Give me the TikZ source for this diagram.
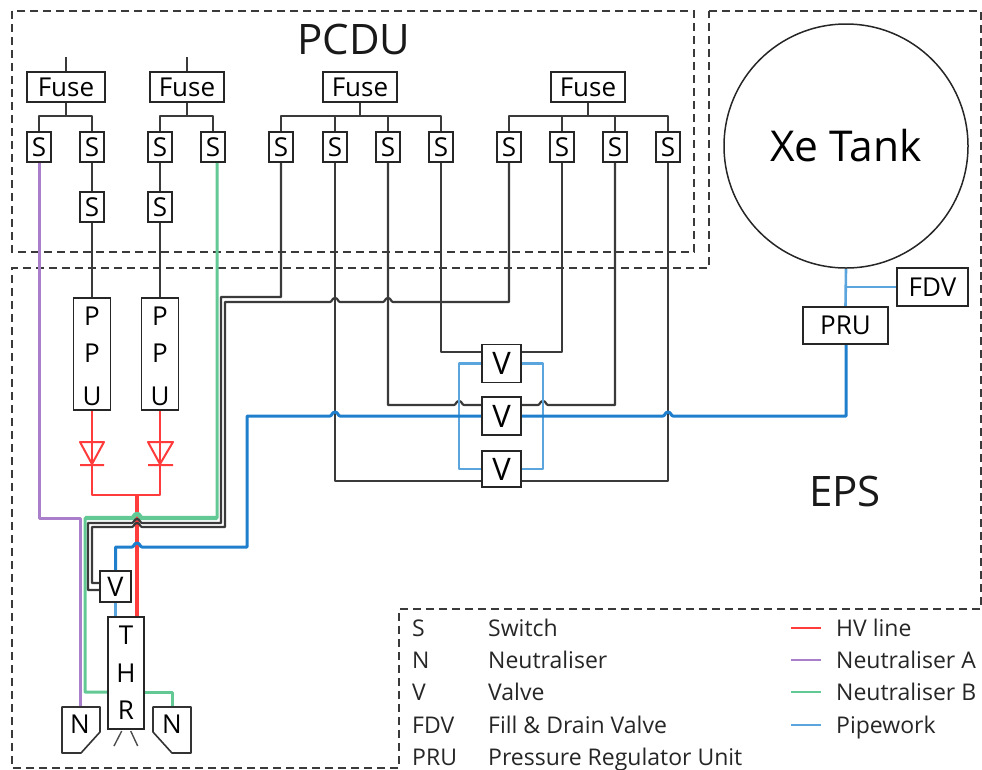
\documentclass[tikz,border=0pt]{standalone}
\usepackage{fontspec}
\usetikzlibrary{backgrounds}
\setmainfont{Open Sans}
\definecolor{hvred}{HTML}{FF3B3B}
\definecolor{npurple}{HTML}{A97FCB}
\definecolor{ngreen}{HTML}{62C994}
\definecolor{pblue}{HTML}{1F7FCC}
\definecolor{lblue}{HTML}{5AA5DE}
\definecolor{dgrey}{HTML}{3A3A3A}
\newcommand{\hopR}[2]{-- ({#1-5},#2) .. controls ({#1-3},#2) and ({#1-3},{#2-4}) .. (#1,{#2-4}) .. controls ({#1+3},{#2-4}) and ({#1+3},#2) .. ({#1+5},#2)}
\newcommand{\hopL}[2]{-- ({#1+5},#2) .. controls ({#1+3},#2) and ({#1+3},{#2-4}) .. (#1,{#2-4}) .. controls ({#1-3},{#2-4}) and ({#1-3},#2) .. ({#1-5},#2)}
\tikzset{
  boxn/.style={draw=black!85,line width=1.5pt,fill=white,inner sep=0pt,font=\fontsize{26}{26}\selectfont},
  fusebox/.style={boxn,minimum width=76pt,minimum height=30pt},
  swbox/.style={boxn,minimum width=24pt,minimum height=30pt},
  ppubox/.style={boxn,minimum width=37pt,minimum height=112pt},
  valvebox/.style={boxn,minimum width=39pt,minimum height=38pt,font=\fontsize{31}{31}\selectfont},
  wire/.style={draw=dgrey,line width=2.2pt,line join=round},
  pipe/.style={draw=pblue,line width=3pt,line join=round},
  lpipe/.style={draw=lblue,line width=2.6pt,line join=round},
  hv/.style={draw=hvred,line width=2.4pt,line join=round},
  neua/.style={draw=npurple,line width=3pt,line join=round},
  neub/.style={draw=ngreen,line width=3pt,line join=round},
  zone/.style={draw=dgrey,line width=1.6pt,dash pattern=on 8pt off 5pt},
  legtext/.style={anchor=west,inner sep=0pt,text height=17pt,text depth=1pt,font=\fontsize{23}{23}\selectfont,text=black!85},
  title/.style={inner sep=0pt,font=\fontsize{42}{42}\selectfont,text=black!90},
  letter/.style={inner sep=0pt,font=\fontsize{26}{26}\selectfont},
  nozzle/.style={draw=black!80,line width=1.6pt,line join=round,fill=white},
}
\begin{document}
\begin{tikzpicture}[x=1pt,y=-1pt]
\useasboundingbox (0,0) rectangle (982,769);
% boxes
\node[fusebox,minimum width=78pt] (F1) at (66,87) {Fuse};
\node[fusebox,minimum width=74pt] (F2) at (187,87) {Fuse};
\node[fusebox,minimum width=74pt] (F3) at (360,87) {Fuse};
\node[fusebox,minimum width=74pt] (F4) at (588,87) {Fuse};
\foreach \n/\x in {1/39,2/92,3/160,4/213,5/281,6/335,7/388,8/441,9/509,10/562,11/615,12/668}
  \node[swbox] (S\n) at (\x,147) {S};
\node[swbox] (S2b) at (92,207) {S};
\node[swbox] (S3b) at (160,207) {S};
\node[ppubox] (P1) at (92,354) {};
\node[ppubox] (P2) at (160,354) {};
\node[valvebox] (V1) at (501.5,363.5) {V};
\node[valvebox] (V2) at (501.5,416) {V};
\node[valvebox,minimum height=36pt] (V3) at (501.5,469) {V};
\node[boxn,minimum width=31pt,minimum height=31pt,font=\fontsize{27}{27}\selectfont] (Vt) at (115.5,586.5) {V};
\node[boxn,minimum width=36pt,minimum height=112pt] (THR) at (126,673) {};
\node[boxn,minimum width=85pt,minimum height=37pt] (PRU) at (845.5,325.5) {PRU};
\node[boxn,minimum width=71pt,minimum height=38pt] (FDV) at (932.5,287) {FDV};
\node[draw=black!85,line width=1.5pt,circle,minimum size=244pt,inner sep=0pt,font=\fontsize{42.5}{42.5}\selectfont] (Tank) at (846,146) {Xe Tank};
% free ends and junctions
\coordinate (t1) at (66,57); \coordinate (t2) at (187,57);
\coordinate (b1) at (66,116); \coordinate (b2) at (187,116); \coordinate (b3) at (360,116); \coordinate (b4) at (588,116);
\coordinate (j) at (137,495);
\coordinate (NLc) at (80,707);
\coordinate (NRc) at (172,707);
\coordinate (tee) at (846,287);
\begin{scope}[on background layer]
\draw[zone] (12,11) rectangle (694,252);
\draw[zone] (709,11) -- (981,11) -- (981,609) -- (399,609) -- (399,768) -- (12,768) -- (12,268) -- (709,268) -- cycle;
\draw[wire] (t1) -- (F1.north);
\draw[wire] (t2) -- (F2.north);
\draw[wire] (F1.south) -- (b1);
\draw[wire] (F2.south) -- (b2);
\draw[wire] (F3.south) -- (b3);
\draw[wire] (F4.south) -- (b4);
\draw[wire] (S1.north) |- (b1) -| (S2.north);
\draw[wire] (S3.north) |- (b2) -| (S4.north);
\draw[wire] (S5.north) |- (b3) -| (S8.north);
\draw[wire] (S6.north) |- (b3);
\draw[wire] (S7.north) |- (b3);
\draw[wire] (S9.north) |- (b4) -| (S12.north);
\draw[wire] (S10.north) |- (b4);
\draw[wire] (S11.north) |- (b4);
\draw[wire] (S2.south) -- (S2b.north);
\draw[wire] (S3.south) -- (S3b.north);
\draw[wire] (S2b.south) -- (P1.north);
\draw[wire] (S3b.south) -- (P2.north);
% HV line
\draw[hv] (P1.south) -- (92,495) -- (160,495) -- (P2.south);
\draw[hvred,line width=2pt,line join=round] (80,442) -- (104,442) -- (92,464) -- cycle (80,465) -- (104,465);
\draw[hvred,line width=2pt,line join=round] (148,442) -- (173,442) -- (160,464) -- cycle (148,465) -- (173,465);
\draw[hv,line width=3.6pt] (j) -- (137,617);
% Neutraliser A
\draw[neua] (S1.south) -- (39,518) -- (80,518) -- (NLc);
% Neutraliser B
\draw[neub] (217,147) -- (217,518) \hopL{137}{518} -- (85,518) -- (85,692) -- (108,692);
\draw[neub,line width=4.4pt] (217,518) \hopL{137}{518} -- (85,518);
\draw[neub] (144,692) -- (172,692) -- (NRc);
% valve wires
\draw[wire] (S5.south) -- (281,297) -- (221,297) -- (221,523) \hopL{137}{523} -- (88,523) -- (88,590) -- (100,590);
\draw[wire] (S9.south) -- (509,302) \hopL{388}{302} \hopL{335}{302} -- (225,302) -- (225,527) \hopL{137}{527} -- (92,527) -- (92,583) -- (100,583);
\draw[wire] (S8.south) -- (441,352) -- (482,352);
\draw[wire] (S10.south) -- (562,352) -- (521,352);
\draw[wire] (S7.south) -- (388,405) \hopR{459}{405} -- (482,405);
\draw[wire] (S11.south) -- (615,405) \hopL{543}{405} -- (521,405);
\draw[wire] (S6.south) -- (335,481) -- (482,481);
\draw[wire] (S12.south) -- (668,481) -- (521,481);
% pipework
\draw[lpipe] (Tank.south) -- (PRU.north);
\draw[lpipe] (tee) -- (FDV.west);
\draw[lpipe] (V1.west) -- (459,363.5) -- (459,469) -- (V3.west);
\draw[lpipe] (V1.east) -- (543,363.5) -- (543,469) -- (V3.east);
\draw[lpipe] (Vt.south) -- (Vt.south |- THR.north);
\draw[pipe] (846,345) -- (846,416) \hopL{668}{416} -- (V2.east);
\draw[pipe] (V2.west) \hopL{335}{416} -- (247,416) -- (247,547) \hopL{137}{547} -- (115.5,547) -- (Vt.north);
\end{scope}
% letters in tall boxes
\foreach \nm/\x/\y/\t in {pa/92/316/P,pb/92/353/P,pc/92/396/U,pd/160/316/P,pe/160/353/P,pf/160/396/U,ta/126/635/T,tb/126/673/H,tc/126/710/R}
  \node[letter] (\nm) at (\x,\y) {\t};
% neutralisers
\draw[nozzle] (62,707) -- (100,707) -- (100,732) -- (81,753) -- (62,753) -- cycle;
\draw[nozzle] (153,707) -- (191,707) -- (191,753) -- (172,753) -- (153,732) -- cycle;
\node[letter] (N1) at (80,724) {N};
\node[letter] (N2) at (172,724) {N};
\draw[draw=black!70,line width=1.4pt] (121.7,731) -- (114,746) (130.7,731) -- (137.7,746);
% titles
\node[title] (tPCDU) at (354,39) {PCDU};
\node[title] (tEPS) at (845,491) {EPS};
% legend
\foreach \nm/\y/\a/\b in {la/628/S/Switch,lb/660/N/Neutraliser,lc/692/V/Valve,ld/725/FDV/Fill \& Drain Valve,le/757/PRU/Pressure Regulator Unit}{
  \node[legtext] (\nm1) at (412,\y) {\a};
  \node[legtext] (\nm2) at (488,\y) {\b};
}
\foreach \nm/\y/\c/\t in {ka/628/hvred/HV line,kb/660/npurple/Neutraliser A,kc/692/ngreen/Neutraliser B,kd/725/lblue/Pipework}{
  \node[legtext] (\nm t) at (836,\y) {\t};
  \coordinate (\nm s) at (791,\y);
  \coordinate (\nm e) at (821,\y);
  \draw[draw=\c,line width=2.6pt] (\nm s) -- (\nm e);
}
\end{tikzpicture}
\end{document}
